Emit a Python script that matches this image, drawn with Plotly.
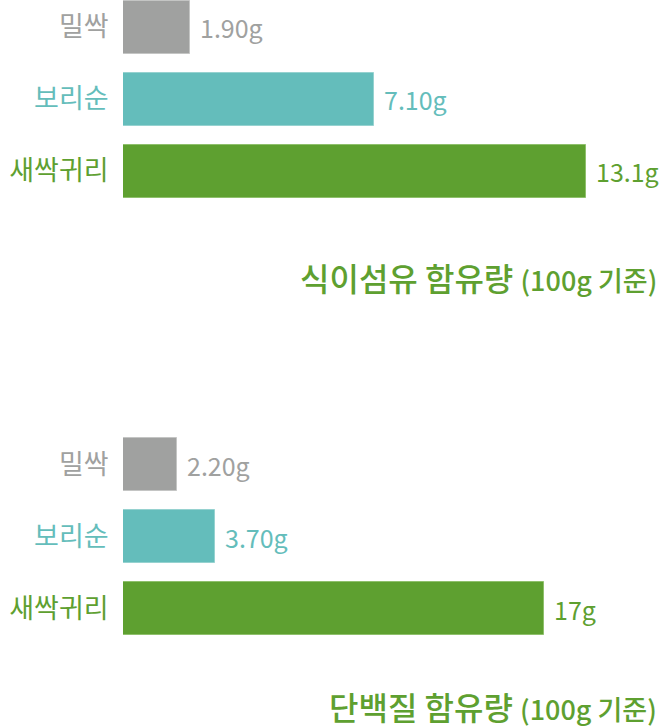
import plotly.graph_objects as go

categories = ["밀싹", "보리순", "새싹귀리"]
fiber_values = [1.90, 7.10, 13.1]
fiber_labels = ["1.90g", "7.10g", "13.1g"]
protein_values = [2.20, 3.70, 17]
protein_labels = ["2.20g", "3.70g", "17g"]
colors = ["#A0A1A0", "#64BDBB", "#5EA030"]
line_colors = ["#C4C5C4", "#96D2D0", "#8FC06C"]
fiber_title = "식이섬유 함유량"
protein_title = "단백질 함유량"
title_suffix = "(100g 기준)"

FONT = "Noto Sans CJK KR"
W, H = 660, 728

fig = go.Figure()

ticktext = [f"<span style='color:{c}'>{t}</span>" for t, c in zip(categories, colors)]

for vals, xa, ya in [(fiber_values, "x", "y"), (protein_values, "x2", "y2")]:
    fig.add_trace(go.Bar(
        x=vals, y=categories, orientation="h",
        marker=dict(color=colors, line=dict(color=line_colors, width=1)),
        width=0.736, xaxis=xa, yaxis=ya, showlegend=False, hoverinfo="skip",
    ))

for vals, labs, xref, yref in [(fiber_values, fiber_labels, "x", "y"),
                               (protein_values, protein_labels, "x2", "y2")]:
    for v, lab, cat, c in zip(vals, labs, categories, colors):
        fig.add_annotation(x=v, y=cat, xref=xref, yref=yref, text=lab,
                           showarrow=False, xanchor="left", yanchor="middle",
                           xshift=8, font=dict(family=FONT, size=25, color=c))

x0 = 123 / W
top_dom = [1 - 216 / H, 1]
bot_dom = [1 - 644 / H, 1 - 428 / H]

axis_common = dict(showgrid=False, zeroline=False, showline=False, automargin=False)
fig.update_layout(
    width=W, height=H,
    margin=dict(l=0, r=0, t=0, b=0, autoexpand=False),
    paper_bgcolor="white", plot_bgcolor="white",
    font=dict(family=FONT),
    bargap=0,
    xaxis=dict(domain=[x0, 1], range=[0, 15.20], showticklabels=False, **axis_common),
    xaxis2=dict(domain=[x0, 1], range=[0, 21.70], showticklabels=False, anchor="y2", **axis_common),
    yaxis=dict(domain=top_dom, type="category", categoryorder="array", categoryarray=categories,
               range=[2.625, -0.375], tickmode="array", tickvals=categories, ticktext=ticktext,
               ticks="outside", ticklen=8, tickcolor="rgba(0,0,0,0)",
               tickfont=dict(family=FONT, size=27), **axis_common),
    yaxis2=dict(domain=bot_dom, type="category", categoryorder="array", categoryarray=categories,
                range=[2.4931, -0.5069], tickmode="array", tickvals=categories, ticktext=ticktext,
                ticks="outside", ticklen=8, tickcolor="rgba(0,0,0,0)", anchor="x2",
                tickfont=dict(family=FONT, size=27), **axis_common),
)

for title, ycen in [(fiber_title, 277), (protein_title, 706)]:
    fig.add_annotation(
        x=658 / W, y=1 - ycen / H, xref="paper", yref="paper",
        xanchor="right", yanchor="middle", showarrow=False, borderpad=0,
        text=f"{title} <span style='font-size:27px'>{title_suffix}</span>",
        font=dict(family=FONT, size=32, color="#5EA030", weight=500),
    )

fig.write_html("out.html", config={"displayModeBar": False},
               post_script="document.body.style.margin='0';document.body.style.overflow='hidden';")
